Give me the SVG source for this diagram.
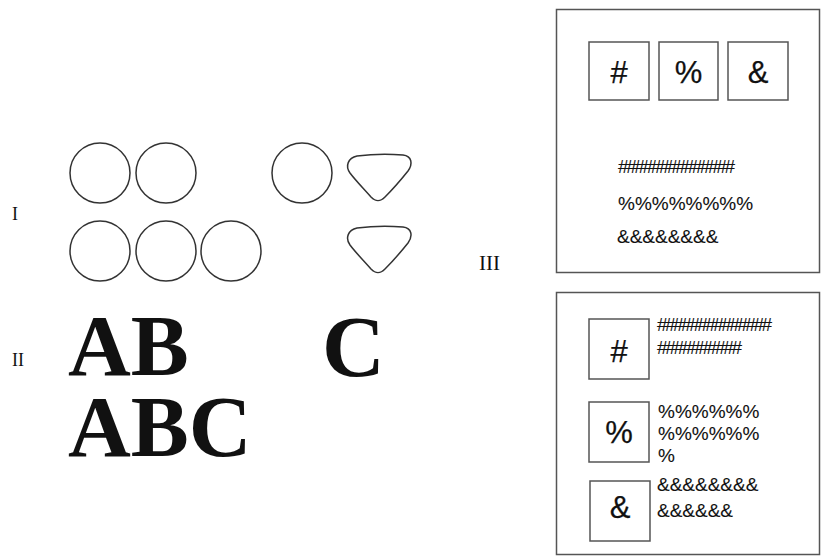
<svg xmlns="http://www.w3.org/2000/svg" width="821" height="556" viewBox="0 0 821 556">
<style>
.c{fill:none;stroke:#333;stroke-width:1.5}
.box{fill:#fff;stroke:#555;stroke-width:1.5}
.roman{font-family:'Liberation Serif','Times New Roman',Times,serif;fill:#111}
.big{font-family:'Liberation Serif','Times New Roman',Times,serif;font-weight:700;font-size:87px;fill:#111}
.sym{font-family:'Liberation Sans',Arial,Helvetica,sans-serif;font-size:31px;fill:#111;stroke:#111;stroke-width:0.25;text-anchor:middle}
.t{font-family:'Liberation Sans',Arial,Helvetica,sans-serif;font-size:19px;fill:#111;stroke:#111;stroke-width:0.1}
</style>
<rect width="821" height="556" fill="#fff"/>
<g id="label-I"><text class="roman" x="12" y="220" font-size="18">I</text></g>
<g id="label-II"><text class="roman" x="12" y="366" font-size="18">II</text></g>
<g id="label-III"><text class="roman" x="479" y="270" font-size="21">III</text></g>
<g id="circles">
<circle class="c" cx="100" cy="173" r="30"/>
<circle class="c" cx="166" cy="173" r="30"/>
<circle class="c" cx="302" cy="173" r="30"/>
<circle class="c" cx="100" cy="251" r="30"/>
<circle class="c" cx="166" cy="251" r="30"/>
<circle class="c" cx="231" cy="251" r="30"/>
</g>
<g id="blobs">
<path id="blob1" class="c" d="M357,156 C372,154 392,154 403,155 C412,156 413,164 408,171 C400,181 392,190 385,197 C380,202 376,202 371,197 C364,189 356,181 350,173 C345,166 348,158 357,156 Z"/>
<path id="blob2" class="c" transform="translate(0,72)" d="M357,156 C372,154 392,154 403,155 C412,156 413,164 408,171 C400,181 392,190 385,197 C380,202 376,202 371,197 C364,189 356,181 350,173 C345,166 348,158 357,156 Z"/>
</g>
<g id="letters">
<text class="big" x="68" y="375">AB</text>
<text class="big" x="322" y="376">C</text>
<text class="big" x="68" y="456">ABC</text>
</g>
<g id="panel-top">
<rect class="box" x="556.5" y="9.5" width="263" height="263"/>
<rect class="box" x="589" y="42" width="60" height="58"/>
<rect class="box" x="659" y="42" width="59" height="58"/>
<rect class="box" x="728" y="42" width="60" height="58"/>
<text class="sym" x="619" y="83">#</text>
<text class="sym" x="688.5" y="83">%</text>
<text class="sym" x="758" y="83">&amp;</text>
<text class="t" x="618" y="173" textLength="117" lengthAdjust="spacing">##############</text>
<text class="t" x="618" y="210">%%%%%%%%</text>
<text class="t" x="617" y="243">&amp;&amp;&amp;&amp;&amp;&amp;&amp;&amp;</text>
</g>
<g id="panel-bottom">
<rect class="box" x="556.5" y="292.5" width="263" height="262"/>
<rect class="box" x="589" y="319" width="60" height="60"/>
<rect class="box" x="589" y="402" width="60" height="60"/>
<rect class="box" x="590" y="481" width="60" height="60"/>
<text class="sym" x="619" y="362">#</text>
<text class="sym" x="619" y="443">%</text>
<text class="sym" x="620" y="518">&amp;</text>
<text class="t" x="657" y="331" textLength="115" lengthAdjust="spacing">##############</text>
<text class="t" x="657" y="354" textLength="85" lengthAdjust="spacing">##########</text>
<text class="t" x="658" y="418">%%%%%%</text>
<text class="t" x="658" y="440">%%%%%%</text>
<text class="t" x="658" y="462">%</text>
<text class="t" x="657" y="491">&amp;&amp;&amp;&amp;&amp;&amp;&amp;&amp;</text>
<text class="t" x="657" y="517">&amp;&amp;&amp;&amp;&amp;&amp;</text>
</g>
<g id="connectors"></g>
</svg>
